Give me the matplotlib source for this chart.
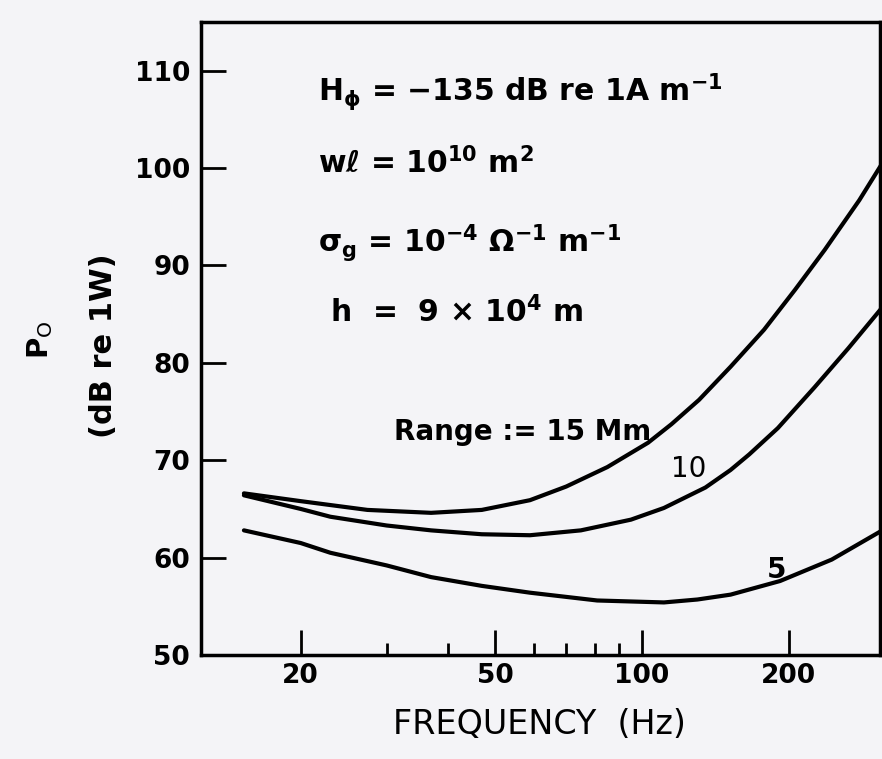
import matplotlib
matplotlib.use("Agg")
import matplotlib.pyplot as plt
from matplotlib.ticker import FixedLocator, NullFormatter

plt.rcParams['font.family'] = ['DejaVu Sans']
plt.rcParams['mathtext.fontset'] = 'dejavusans'
plt.rcParams['mathtext.default'] = 'bf'

# values (frequency in Hz, P0 in dB re 1W)
freq_15 = [15.3, 20, 23, 27.4, 37, 47, 59, 70, 85, 103, 115, 131, 152, 178,
           206, 237, 279, 311]
p0_15 = [66.6, 65.8, 65.4, 64.9, 64.6, 64.9, 65.9, 67.3, 69.3, 71.8, 73.7,
         76.2, 79.6, 83.4, 87.5, 91.6, 96.7, 100.5]

freq_10 = [15.3, 20, 23, 30, 37, 47, 59, 75, 95, 111, 135, 152, 166, 190, 226,
           265, 311]
p0_10 = [66.4, 65.0, 64.2, 63.3, 62.8, 62.4, 62.3, 62.8, 63.9, 65.1, 67.2, 69.0,
         70.6, 73.3, 77.5, 81.5, 85.7]

freq_5 = [15.3, 20, 23, 30, 37, 47, 59, 81, 111, 130, 152, 192, 245, 311]
p0_5 = [62.8, 61.5, 60.5, 59.2, 58.0, 57.1, 56.4, 55.6, 55.4, 55.7, 56.2, 57.6,
        59.8, 62.8]

x_major = [20, 50, 100, 200]
x_minor = [30, 40, 60, 70, 80, 90]
y_ticks = [50, 60, 70, 80, 90, 100, 110]

bg = '#f4f4f7'
fig = plt.figure(figsize=(8.82, 7.59), dpi=100)
fig.patch.set_facecolor(bg)
ax = fig.add_axes([0.228, 0.137, 0.77, 0.834])
ax.set_facecolor(bg)

for f, p in [(freq_15, p0_15), (freq_10, p0_10), (freq_5, p0_5)]:
    ax.plot(f, p, color='black', lw=3, solid_capstyle='round',
            solid_joinstyle='round')

ax.set_xscale('log')
ax.set_xlim(12.5, 308)
ax.set_ylim(50, 115)

ax.xaxis.set_major_locator(FixedLocator(x_major))
ax.xaxis.set_minor_locator(FixedLocator(x_minor))
ax.xaxis.set_minor_formatter(NullFormatter())
ax.set_xticklabels([str(v) for v in x_major])
ax.set_yticks(y_ticks)

ax.tick_params(axis='both', which='major', direction='in', length=18, width=2,
               labelsize=19)
ax.tick_params(axis='y', which='major', pad=8)
ax.tick_params(axis='x', which='major', pad=6)
ax.tick_params(axis='x', which='minor', direction='in', length=9, width=2)
for lab in ax.get_xticklabels() + ax.get_yticklabels():
    lab.set_fontweight('bold')

for s in ax.spines.values():
    s.set_linewidth(2.5)

txt = dict(fontsize=21.5, fontweight='bold', va='baseline')
ax.text(21.7, 106.9, r'H$_\phi$ = $-$135 dB re 1A m$^{-1}$', **txt)
ax.text(21.7, 99.5, r'w$\ell$ = 10$^{10}$ m$^{2}$', **txt)
ax.text(21.7, 91.4, r'$\sigma_g$ = 10$^{-4}$ $\Omega^{-1}$ m$^{-1}$', **txt)
ax.text(23.0, 84.2, r'h  =  9 $\times$ 10$^{4}$ m', **txt)
ax.text(31.1, 72.1, 'Range := 15 Mm', fontsize=20, fontweight='bold', va='baseline')
ax.text(115, 68.3, '10', fontsize=20, va='baseline')
ax.text(180, 57.9, '5', fontsize=20, fontweight='bold', va='baseline')

fig.text(0.046, 0.552, r'P$_\mathrm{O}$', rotation=90, fontsize=21,
         fontweight='bold', ha='center', va='center')
fig.text(0.117, 0.545, '(dB re 1W)', rotation=90, fontsize=22,
         fontweight='bold', ha='center', va='center')
fig.text(0.612, 0.045, 'FREQUENCY  (Hz)', fontsize=24, ha='center', va='center')

fig.savefig('out.png', dpi=100, facecolor=fig.get_facecolor())
